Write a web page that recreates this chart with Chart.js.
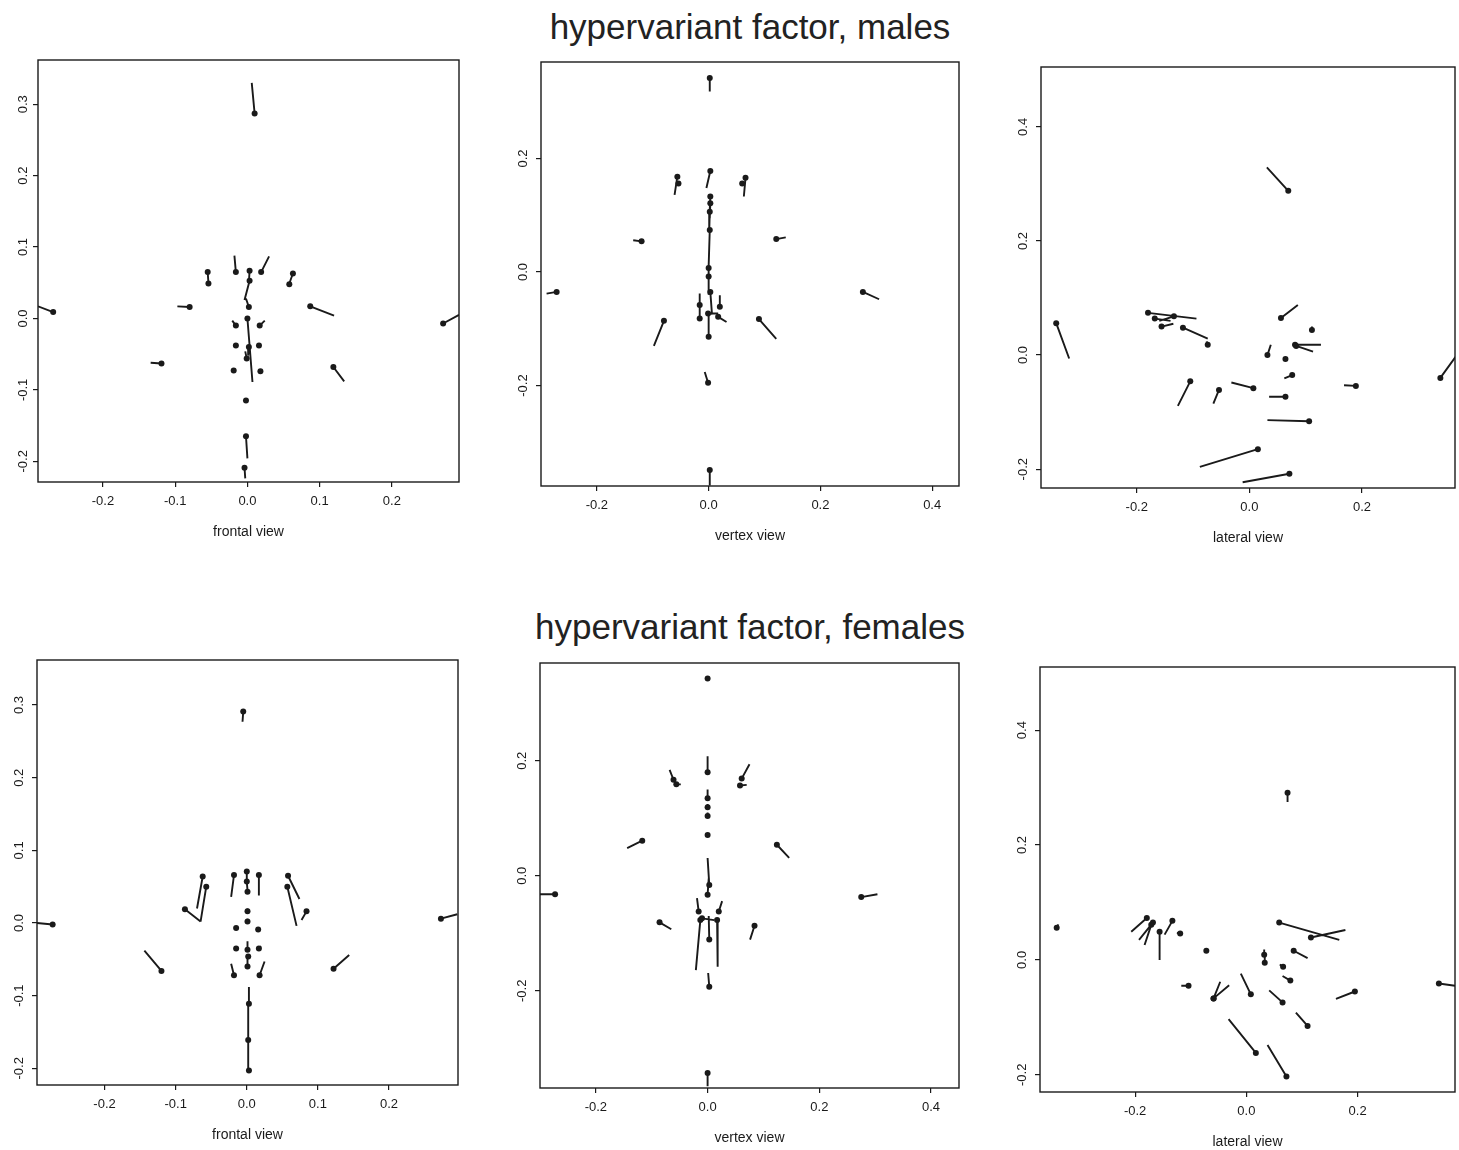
<!DOCTYPE html>
<html>
<head>
<meta charset="utf-8">
<script src="https://cdn.jsdelivr.net/npm/chart.js@4/dist/chart.umd.min.js"></script>
<style>
  body { margin: 0; background: #fff; width: 1459px; height: 1150px; position: relative; overflow: hidden;
         font-family: "Liberation Sans", Arial, sans-serif; }
  .title { position: absolute; left: 0; width: 1500px; text-align: center; font-size: 35px; color: #222; line-height: 40px; }
  canvas { position: absolute; }
</style>
</head>
<body>
<div class="title" style="top:7px">hypervariant factor, males</div>
<div class="title" style="top:607px">hypervariant factor, females</div>
<script>
// each row: landmark x, landmark y, vector end x, vector end y
const malesFrontal = [
  [0.010, 0.287, 0.006, 0.330],
  [-0.016, 0.065, -0.018, 0.088],
  [0.003, 0.067, 0.002, 0.050],
  [0.003, 0.053, -0.004, 0.026],
  [0.019, 0.065, 0.030, 0.087],
  [-0.055, 0.065, -0.054, 0.050],
  [-0.054, 0.049, -0.054, 0.049],
  [0.063, 0.063, 0.058, 0.049],
  [0.058, 0.048, 0.058, 0.048],
  [-0.080, 0.016, -0.097, 0.017],
  [0.087, 0.017, 0.120, 0.004],
  [-0.269, 0.009, -0.290, 0.017],
  [0.271, -0.007, 0.293, 0.005],
  [0.002, 0.016, -0.002, 0.028],
  [0.000, 0.000, 0.007, -0.089],
  [-0.016, -0.010, -0.021, -0.003],
  [0.017, -0.010, 0.024, -0.003],
  [-0.016, -0.038, -0.016, -0.038],
  [0.016, -0.038, 0.016, -0.038],
  [0.002, -0.040, 0.001, -0.052],
  [-0.001, -0.056, -0.003, -0.046],
  [-0.019, -0.073, -0.019, -0.073],
  [0.018, -0.074, 0.018, -0.074],
  [-0.119, -0.063, -0.134, -0.062],
  [0.119, -0.068, 0.134, -0.088],
  [-0.002, -0.115, -0.002, -0.115],
  [-0.002, -0.165, 0.000, -0.196],
  [-0.004, -0.209, -0.003, -0.224]
];
const malesVertex = [
  [0.002, 0.342, 0.002, 0.318],
  [0.003, 0.178, -0.004, 0.148],
  [-0.056, 0.168, -0.061, 0.136],
  [-0.054, 0.156, -0.054, 0.156],
  [0.066, 0.166, 0.063, 0.133],
  [0.060, 0.156, 0.060, 0.156],
  [0.003, 0.133, 0.002, 0.110],
  [0.003, 0.121, 0.002, 0.095],
  [0.002, 0.106, 0.001, 0.070],
  [0.002, 0.074, 0.000, 0.010],
  [0.000, 0.007, 0.000, -0.030],
  [0.000, -0.008, 0.000, -0.040],
  [0.003, -0.035, 0.006, -0.075],
  [0.000, -0.114, 0.000, -0.075],
  [-0.120, 0.054, -0.135, 0.056],
  [0.121, 0.058, 0.138, 0.061],
  [-0.272, -0.035, -0.290, -0.038],
  [0.276, -0.035, 0.305, -0.048],
  [-0.016, -0.058, -0.016, -0.038],
  [-0.016, -0.082, -0.016, -0.060],
  [0.020, -0.061, 0.020, -0.041],
  [0.017, -0.079, 0.032, -0.088],
  [-0.001, -0.073, 0.017, -0.073],
  [-0.080, -0.086, -0.098, -0.130],
  [0.090, -0.083, 0.121, -0.118],
  [-0.001, -0.195, -0.007, -0.176],
  [0.002, -0.349, 0.002, -0.376]
];
const malesLateral = [
  [0.069, 0.288, 0.031, 0.329],
  [-0.343, 0.056, -0.320, -0.006],
  [-0.180, 0.074, -0.094, 0.064],
  [-0.168, 0.064, -0.140, 0.060],
  [-0.156, 0.050, -0.135, 0.055],
  [-0.134, 0.068, -0.160, 0.060],
  [-0.118, 0.048, -0.074, 0.029],
  [-0.074, 0.018, -0.076, 0.024],
  [0.056, 0.065, 0.086, 0.088],
  [0.111, 0.044, 0.111, 0.050],
  [0.081, 0.018, 0.127, 0.018],
  [0.083, 0.016, 0.113, 0.006],
  [0.032, 0.000, 0.038, 0.018],
  [0.064, -0.007, 0.064, -0.007],
  [0.076, -0.035, 0.062, -0.041],
  [-0.105, -0.046, -0.127, -0.089],
  [-0.054, -0.061, -0.064, -0.085],
  [0.007, -0.058, -0.032, -0.048],
  [0.064, -0.073, 0.035, -0.073],
  [0.189, -0.054, 0.168, -0.053],
  [0.339, -0.040, 0.366, -0.003],
  [0.106, -0.116, 0.032, -0.114],
  [0.015, -0.165, -0.088, -0.196],
  [0.071, -0.208, -0.012, -0.223]
];
const femalesFrontal = [
  [-0.005, 0.291, -0.006, 0.277],
  [-0.273, -0.002, -0.295, 0.000],
  [0.273, 0.006, 0.296, 0.012],
  [-0.120, -0.066, -0.144, -0.038],
  [0.122, -0.063, 0.144, -0.044],
  [-0.062, 0.064, -0.070, 0.020],
  [-0.057, 0.050, -0.065, 0.002],
  [-0.087, 0.019, -0.065, 0.002],
  [-0.018, 0.066, -0.022, 0.036],
  [0.017, 0.066, 0.017, 0.038],
  [0.000, 0.071, 0.000, 0.060],
  [0.000, 0.057, 0.001, 0.045],
  [0.001, 0.043, 0.001, 0.040],
  [0.001, 0.016, 0.001, 0.020],
  [0.001, 0.002, 0.001, 0.006],
  [-0.015, -0.007, -0.015, -0.007],
  [0.016, -0.009, 0.016, -0.009],
  [-0.015, -0.035, -0.015, -0.035],
  [0.017, -0.035, 0.020, -0.032],
  [0.001, -0.037, 0.001, -0.025],
  [0.002, -0.046, 0.002, -0.046],
  [0.001, -0.060, 0.001, -0.048],
  [-0.018, -0.072, -0.022, -0.056],
  [0.018, -0.072, 0.025, -0.053],
  [0.058, 0.065, 0.074, 0.033],
  [0.057, 0.050, 0.070, -0.004],
  [0.084, 0.016, 0.077, 0.004],
  [0.003, -0.111, 0.003, -0.088],
  [0.002, -0.161, 0.002, -0.110],
  [0.003, -0.203, 0.002, -0.161]
];
const femalesVertex = [
  [0.000, 0.343, 0.000, 0.343],
  [0.000, 0.180, 0.000, 0.208],
  [-0.061, 0.167, -0.068, 0.184],
  [-0.056, 0.159, -0.048, 0.159],
  [0.061, 0.169, 0.075, 0.194],
  [0.058, 0.157, 0.070, 0.158],
  [0.000, 0.135, 0.000, 0.150],
  [0.000, 0.119, 0.000, 0.125],
  [0.000, 0.104, 0.000, 0.110],
  [0.000, 0.071, 0.000, 0.071],
  [-0.117, 0.061, -0.144, 0.048],
  [0.124, 0.054, 0.146, 0.031],
  [0.003, -0.016, 0.000, 0.031],
  [0.000, -0.033, 0.002, -0.005],
  [-0.273, -0.032, -0.300, -0.032],
  [0.275, -0.037, 0.304, -0.032],
  [-0.016, -0.062, -0.019, -0.039],
  [0.020, -0.062, 0.026, -0.044],
  [-0.013, -0.077, -0.021, -0.164],
  [0.017, -0.077, 0.018, -0.158],
  [-0.010, -0.074, 0.012, -0.077],
  [-0.086, -0.081, -0.065, -0.093],
  [0.084, -0.087, 0.076, -0.111],
  [0.003, -0.111, 0.002, -0.070],
  [0.003, -0.193, 0.001, -0.169],
  [0.000, -0.343, 0.000, -0.366]
];
const femalesLateral = [
  [0.074, 0.291, 0.074, 0.275],
  [-0.341, 0.056, -0.338, 0.062],
  [0.346, -0.041, 0.375, -0.045],
  [0.195, -0.055, 0.161, -0.068],
  [-0.179, 0.073, -0.207, 0.049],
  [-0.168, 0.065, -0.193, 0.035],
  [-0.171, 0.061, -0.183, 0.026],
  [-0.156, 0.049, -0.156, 0.000],
  [-0.133, 0.068, -0.147, 0.044],
  [-0.119, 0.046, -0.125, 0.047],
  [-0.072, 0.016, -0.072, 0.016],
  [0.059, 0.065, 0.167, 0.035],
  [0.116, 0.039, 0.178, 0.052],
  [0.085, 0.016, 0.110, 0.003],
  [0.032, 0.009, 0.032, 0.018],
  [0.033, -0.005, 0.033, 0.005],
  [0.066, -0.012, 0.060, -0.008],
  [0.079, -0.036, 0.065, -0.028],
  [-0.104, -0.045, -0.117, -0.045],
  [-0.059, -0.067, -0.047, -0.038],
  [-0.059, -0.067, -0.031, -0.044],
  [0.008, -0.060, -0.010, -0.024],
  [0.065, -0.074, 0.041, -0.053],
  [0.110, -0.115, 0.089, -0.092],
  [0.017, -0.162, -0.032, -0.103],
  [0.072, -0.203, 0.038, -0.148]
];

const viewLabels = ['frontal view', 'vertex view', 'lateral view'];

// panel placement: plot box [left, top, right, bottom] in page pixels, axis ranges, tick steps
const panels = [
  { data: malesFrontal,   label: viewLabels[0], box: [38, 60, 460, 482],    x: [-0.290, 0.293], y: [-0.229, 0.362], xs: 0.1, ys: 0.1, yLab: 15 },
  { data: malesVertex,    label: viewLabels[1], box: [541, 62, 960, 486],   x: [-0.300, 0.448], y: [-0.377, 0.370], xs: 0.2, ys: 0.2, yLab: 18 },
  { data: malesLateral,   label: viewLabels[2], box: [1041, 67, 1456, 488], x: [-0.370, 0.365], y: [-0.233, 0.505], xs: 0.2, ys: 0.2, yLab: 18 },
  { data: femalesFrontal, label: viewLabels[0], box: [37, 660, 459, 1085],  x: [-0.295, 0.297], y: [-0.223, 0.362], xs: 0.1, ys: 0.1, yLab: 18 },
  { data: femalesVertex,  label: viewLabels[1], box: [540, 663, 960, 1088], x: [-0.300, 0.450], y: [-0.369, 0.370], xs: 0.2, ys: 0.2, yLab: 18 },
  { data: femalesLateral, label: viewLabels[2], box: [1040, 667, 1456, 1092], x: [-0.371, 0.375], y: [-0.230, 0.510], xs: 0.2, ys: 0.2, yLab: 18 }
];

const FONT = '"Liberation Sans", Arial, sans-serif';
const INK = '#1a1a1a';
const fmt = v => (Math.abs(v) < 1e-9 ? 0 : v).toFixed(1);

const boxPlugin = {
  id: 'box',
  afterDraw(chart) {
    const { ctx, chartArea: a } = chart;
    const ys = chart.scales.y;
    const off = chart.options.plugins.box.yLab;
    ctx.save();
    ctx.strokeStyle = INK;
    ctx.lineWidth = 1.4;
    ctx.strokeRect(a.left, a.top, a.right - a.left, a.bottom - a.top);
    // rotated y tick labels, R style
    ctx.fillStyle = INK;
    ctx.font = '13px ' + FONT;
    ctx.textAlign = 'center';
    ctx.textBaseline = 'middle';
    ys.ticks.forEach(t => {
      const py = ys.getPixelForValue(t.value);
      ctx.save();
      ctx.translate(a.left - off, py);
      ctx.rotate(-Math.PI / 2);
      ctx.fillText(fmt(t.value), 0, 0);
      ctx.restore();
    });
    ctx.restore();
  }
};

const PAD_L = 45, PAD_T = 8, PAD_R = 3, PAD_B = 62;

function makePanel(p) {
  const [L, T, R, B] = p.box;
  const w = R - L + PAD_L + PAD_R, h = B - T + PAD_T + PAD_B;
  const cv = document.createElement('canvas');
  cv.width = w; cv.height = h;
  cv.style.left = (L - PAD_L) + 'px';
  cv.style.top = (T - PAD_T) + 'px';
  cv.style.width = w + 'px';
  cv.style.height = h + 'px';
  document.body.appendChild(cv);

  const dots = p.data.map(r => ({ x: r[0], y: r[1] }));
  const vecs = [];
  p.data.forEach(r => {
    vecs.push({ x: r[0], y: r[1] }, { x: r[2], y: r[3] }, { x: null, y: null });
  });

  const grid = { drawOnChartArea: false, drawTicks: true, tickLength: 5, color: INK, lineWidth: 1.2 };

  new Chart(cv, {
    type: 'scatter',
    data: {
      datasets: [
        { data: vecs, showLine: true, spanGaps: false, borderColor: INK, borderWidth: 1.9, pointRadius: 0 },
        { data: dots, pointRadius: 3, backgroundColor: INK, borderColor: INK, borderWidth: 0 }
      ]
    },
    options: {
      responsive: false,
      animation: false,
      layout: { padding: { left: 0, top: PAD_T, right: PAD_R, bottom: 0 } },
      plugins: { legend: { display: false }, tooltip: { enabled: false }, box: { yLab: p.yLab } },
      scales: {
        x: {
          type: 'linear', min: p.x[0], max: p.x[1],
          afterFit: s => { s.height = PAD_B; },
          border: { display: false },
          grid,
          ticks: { stepSize: p.xs, includeBounds: false, autoSkip: false, maxRotation: 0, padding: 7,
                   color: INK, font: { family: FONT, size: 13 }, callback: fmt },
          title: { display: true, text: p.label, color: INK, font: { family: FONT, size: 14 },
                   padding: { top: 0, bottom: 3 } }
        },
        y: {
          type: 'linear', min: p.y[0], max: p.y[1],
          afterFit: s => { s.width = PAD_L; },
          border: { display: false },
          grid,
          ticks: { stepSize: p.ys, includeBounds: false, display: false }
        }
      }
    },
    plugins: [boxPlugin]
  });
}

panels.forEach(makePanel);
</script>
</body>
</html>
